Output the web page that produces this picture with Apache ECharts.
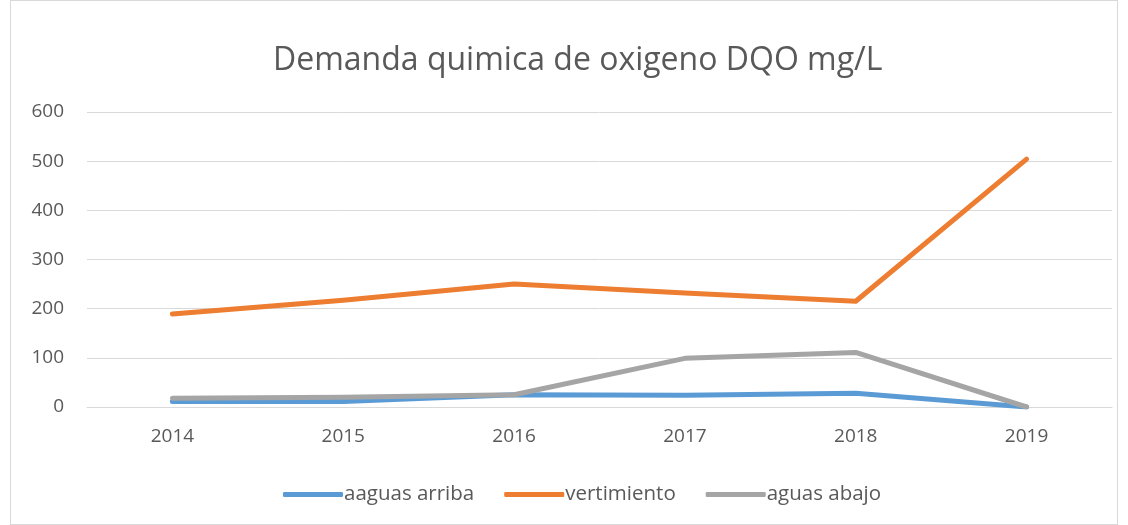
<!DOCTYPE html>
<html><head><meta charset="utf-8">
<script src="https://cdn.jsdelivr.net/npm/echarts@6/dist/echarts.min.js"></script>
<style>html,body{margin:0;padding:0;background:#fff}#c{width:1128px;height:525px;}
#f{position:absolute;left:10px;top:0px;width:1106px;height:523px;border:1px solid #d9d9d9;pointer-events:none}</style>
</head><body><div id="c"></div><div id="f"></div>
<script>
const years = ['2014','2015','2016','2017','2018','2019'];
const aguasArriba = [11, 11, 25, 24, 28, 0];
const vertimiento = [189, 217, 250, 232, 215, 504];
const aguasAbajo = [18, 20, 25, 99, 111, 0];
const yTicks = {min: 0, max: 600, interval: 100};

const chart = echarts.init(document.getElementById('c'));
const font = "'Open Sans', 'Liberation Sans', sans-serif";
function s(name, data, color){
  return {name, type:'line', data, symbol:'none', smooth:false,
    lineStyle:{width:5, color, cap:'round', join:'round'}, itemStyle:{color}};
}
chart.setOption({
  animation:false,
  title:{text:'Demanda quimica de oxigeno DQO mg/L', left:268, top:40,
    textStyle:{fontFamily:font, fontSize:32, fontWeight:'normal', color:'#595959'}},
  grid:{left:87, right:16, top:112, bottom:118},
  legend:{top:479, left:278, itemWidth:60, itemHeight:5, itemGap:30,
    icon:'roundRect',
    textStyle:{fontFamily:font, fontSize:20.5, color:'#595959', padding:[0,0,0,-4]}},
  xAxis:{type:'category', data:years, boundaryGap:true,
    axisLine:{lineStyle:{color:'#d9d9d9', width:1}}, axisTick:{show:false},
    axisLabel:{fontFamily:font, fontSize:19, color:'#595959', margin:20}},
  yAxis:{type:'value', min:yTicks.min, max:yTicks.max, interval:yTicks.interval,
    axisLine:{show:false}, axisTick:{show:false},
    splitLine:{lineStyle:{color:'#d9d9d9', width:1}},
    axisLabel:{fontFamily:font, fontSize:19, color:'#595959', margin:23}},
  series:[s('aaguas arriba', aguasArriba, '#5b9bd5'), s('vertimiento', vertimiento, '#ed7d31'), s('aguas abajo', aguasAbajo, '#a5a5a5')]
});
</script></body></html>
